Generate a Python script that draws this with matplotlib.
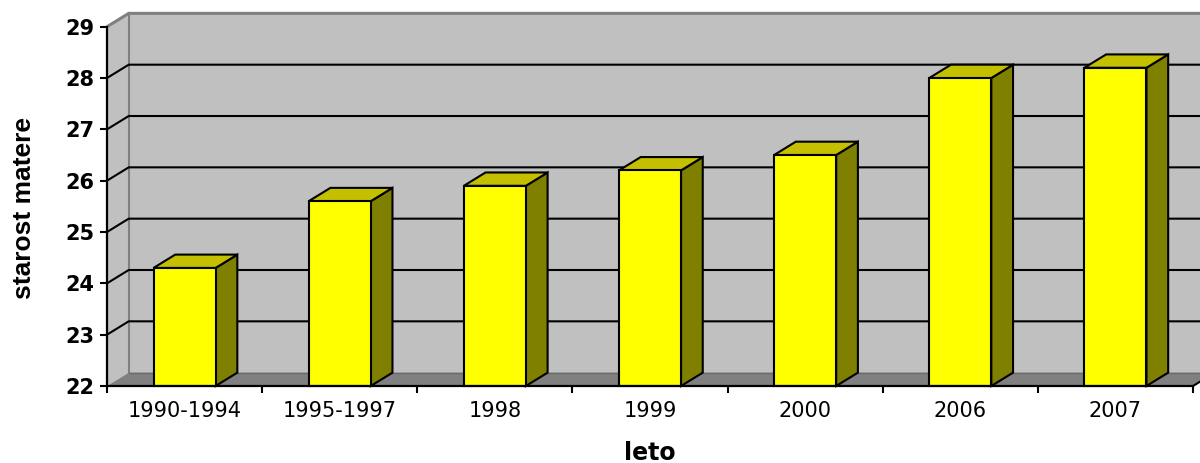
import matplotlib
matplotlib.use("Agg")
import matplotlib.pyplot as plt
from matplotlib.patches import Polygon, Rectangle

categories = ["1990-1994", "1995-1997", "1998", "1999", "2000", "2006", "2007"]
values = [24.3, 25.6, 25.9, 26.2, 26.5, 28.0, 28.2]
y_ticks = [22, 23, 24, 25, 26, 27, 28, 29]
x_title = "leto"
y_title = "starost matere"

W, H = 1200, 463
fig = plt.figure(figsize=(W / 100, H / 100), dpi=100)
fig.patch.set_facecolor("white")

left_px, right_px, top_px, bot_px = 107, 1193, 26.7, 386
ax = fig.add_axes([left_px / W, (H - bot_px) / H, (right_px - left_px) / W, (bot_px - top_px) / H])
ymin, ymax = 22, 29
n = len(categories)
ax.set_xlim(0, n)
ax.set_ylim(ymin, ymax)
ax.patch.set_visible(False)

DX, DY = 0.140, 0.26
EXT = n + 1.0  # extend beyond figure edge

wall_c = "#C0C0C0"
floor_c = "#808080"
edge_gray = "#808080"

# back wall
ax.add_patch(Polygon([(DX, ymin + DY), (EXT, ymin + DY), (EXT, ymax + DY), (DX, ymax + DY)],
                     closed=True, facecolor=wall_c, edgecolor="none", clip_on=False, zorder=0.5))
# left side wall
ax.add_patch(Polygon([(0, ymin), (DX, ymin + DY), (DX, ymax + DY), (0, ymax)],
                     closed=True, facecolor=wall_c, edgecolor="none", clip_on=False, zorder=0.5))
# wall border lines
ax.plot([0, DX, EXT], [ymax, ymax + DY, ymax + DY], color=edge_gray, lw=2.2, clip_on=False, zorder=0.6,
        solid_capstyle="butt")
ax.plot([DX, DX], [ymin + DY, ymax + DY], color=edge_gray, lw=1.5, clip_on=False, zorder=0.6)

# gridlines
for t in y_ticks[1:-1]:
    ax.plot([0, DX, EXT], [t, t + DY, t + DY], color="black", lw=1.5, clip_on=False, zorder=0.7)

# floor
ax.add_patch(Polygon([(0, ymin), (n, ymin), (n + DX, ymin + DY), (DX, ymin + DY)],
                     closed=True, facecolor=floor_c, edgecolor="none", clip_on=False, zorder=0.8))
ax.plot([DX, EXT], [ymin + DY, ymin + DY], color="#6a6a6a", lw=1.0, clip_on=False, zorder=0.85)
ax.plot([n, n + DX], [ymin, ymin + DY], color="black", lw=1.5, clip_on=False, zorder=0.9)

# bars
bw = 0.4
for i, v in enumerate(values):
    x0 = i + 0.5 - bw / 2
    x1 = i + 0.5 + bw / 2
    side = Polygon([(x1, ymin), (x1 + DX, ymin + DY), (x1 + DX, v + DY), (x1, v)], closed=True,
                   facecolor="#808000", edgecolor="black", lw=1.5, joinstyle="miter", zorder=3, clip_on=False)
    top = Polygon([(x0, v), (x1, v), (x1 + DX, v + DY), (x0 + DX, v + DY)], closed=True,
                  facecolor="#C4C000", edgecolor="black", lw=1.5, joinstyle="miter", zorder=3, clip_on=False)
    front = Rectangle((x0, ymin), bw, v - ymin, facecolor="#FFFF00", edgecolor="black", lw=1.5,
                      joinstyle="miter", zorder=3.1, clip_on=False)
    ax.add_patch(side)
    ax.add_patch(top)
    ax.add_patch(front)

# spines
for s in ["top", "right"]:
    ax.spines[s].set_visible(False)
for s in ["left", "bottom"]:
    ax.spines[s].set_color("black")
    ax.spines[s].set_linewidth(1.6)
    ax.spines[s].set_zorder(4)

ax.set_yticks(y_ticks)
ax.set_yticklabels([str(t) for t in y_ticks], fontfamily="DejaVu Sans", fontweight="bold", fontsize=15)
ax.tick_params(axis="y", direction="out", length=5, width=1.5, pad=4, colors="black")

ax.set_xticks(range(0, n + 1))
ax.set_xticklabels([""] * (n + 1))
ax.set_xticks([i + 0.5 for i in range(n)], minor=True)
ax.set_xticklabels(categories, minor=True, fontfamily="DejaVu Sans", fontsize=15)
ax.tick_params(axis="x", which="major", direction="out", length=5, width=1.5)
ax.tick_params(axis="x", which="minor", length=0, pad=11)

fig.text(650 / W, 1 - 453 / H, x_title, ha="center", va="center", fontfamily="DejaVu Sans",
         fontweight="bold", fontsize=17)
fig.text(24 / W, 1 - 208 / H, y_title, ha="center", va="center", rotation=90,
         fontfamily="Liberation Sans", fontweight="bold", fontsize=19)

fig.savefig("out.png", dpi=100, facecolor="white")
